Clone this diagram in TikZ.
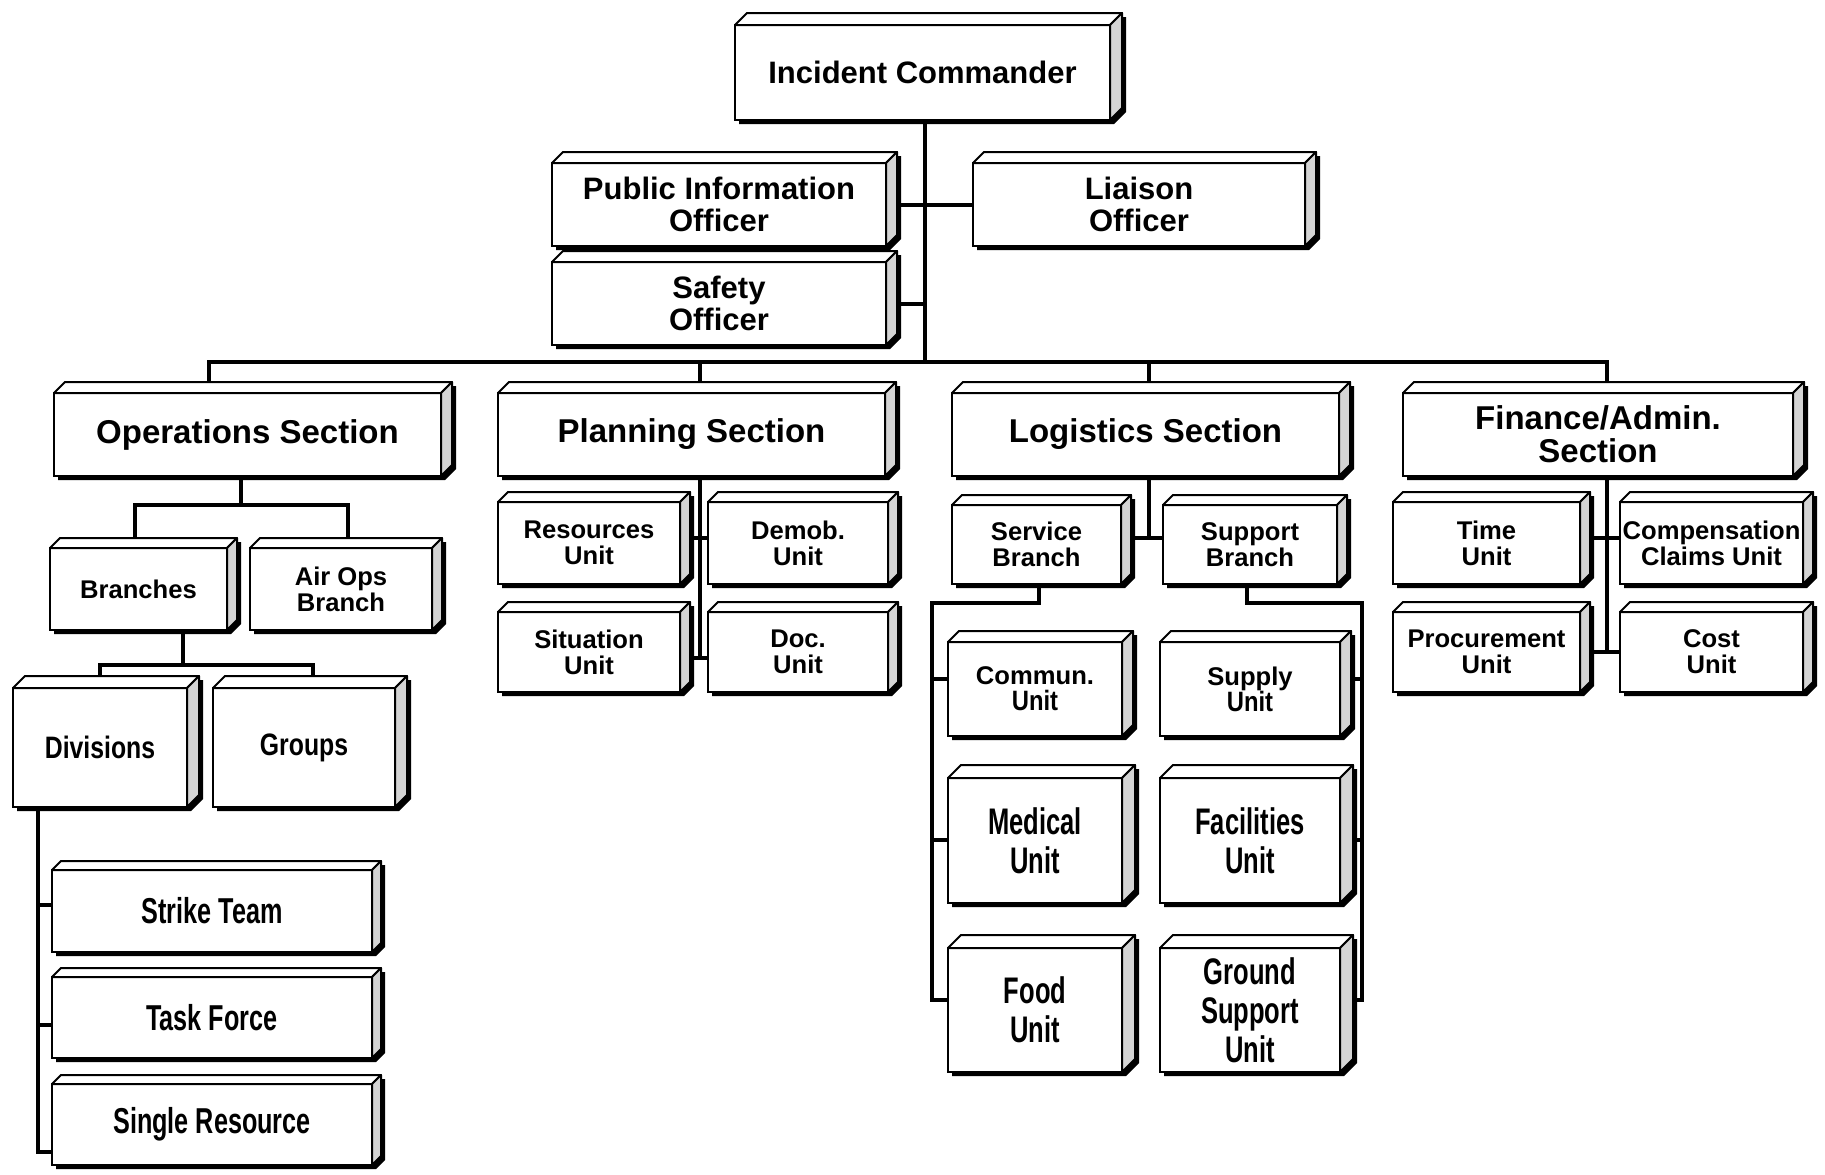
\documentclass[tikz,border=0pt]{standalone}
\usepackage{fontspec}
\setmainfont{Liberation Sans}
\usepackage{graphicx}
\usetikzlibrary{calc}
\pgfdeclarelayer{canvas}
\pgfdeclarelayer{background}
\pgfsetlayers{canvas,background,main}
\definecolor{sidegray}{HTML}{D4D4D4}
\newcommand\nar[2][0.7]{\scalebox{#1}[1]{#2}}
\tikzset{
  boxnode/.style={draw=black, line width=1pt, fill=white, inner sep=0pt, outer sep=0pt, align=center, text=black},
  faceline/.style={draw=black, line width=1pt, line join=round},
  conn/.style={draw=black, line width=2pt},
  ftop/.style={font=\fontsize{15.5}{16}\selectfont\bfseries},
  fsec/.style={font=\fontsize{16.5}{16.5}\selectfont\bfseries},
  fsub/.style={font=\fontsize{12.8}{13}\selectfont\bfseries},
  fdiv/.style={font=\fontsize{15.5}{16}\selectfont\bfseries},
  fres/.style={font=\fontsize{18}{19}\selectfont\bfseries},
  fbig/.style={font=\fontsize{18.5}{19.5}\selectfont\bfseries},
}
% #1 name, #2 x1, #3 y1, #4 x2, #5 y2, #6 depth, #7 font style, #8 text
\newcommand\mkbox[8]{%
  \fill[black] ({#2+4},{#5+4}) -- ({#4+4},{#5+4}) -- ({#4+#6+4},{#5-#6+4}) -- ({#4+#6+4},{#3-#6+4}) -- ({#2+#6+4},{#3-#6+4}) -- ({#2+4},{#3+4}) -- cycle;
  \node[boxnode, #7, minimum width={(#4-#2)*0.5pt}, minimum height={(#5-#3)*0.5pt}] (#1) at ({(#2+#4)/2},{(#3+#5)/2}) {#8};
  \draw[faceline, fill=white] (#1.north west) -- ++(#6,-#6) -- ([shift={(#6,-#6)}]#1.north east) -- (#1.north east) -- cycle;
  \draw[faceline, fill=sidegray] (#1.north east) -- ++(#6,-#6) -- ([shift={(#6,-#6)}]#1.south east) -- (#1.south east) -- cycle;
}
\begin{document}
\begin{tikzpicture}[x=0.5pt, y=-0.5pt]
\useasboundingbox (0,0) rectangle (1825,1174);
\begin{pgfonlayer}{canvas}
  \fill[white] (0,0) rectangle (1825,1174);
\end{pgfonlayer}

% top level
\mkbox{ic}{735}{25}{1110}{120}{12}{ftop}{Incident Commander}
\mkbox{pio}{552}{163}{886}{246}{11}{ftop}{Public Information\\Officer}
\mkbox{saf}{552}{262}{886}{345}{11}{ftop}{Safety\\Officer}
\mkbox{lia}{973}{163}{1305}{246}{11}{ftop}{Liaison\\Officer}

% sections
\mkbox{ops}{54}{393}{441}{476}{11}{fsec}{Operations Section}
\mkbox{pla}{498}{393}{885}{476}{11}{fsec}{Planning Section}
\mkbox{log}{952}{393}{1339}{476}{11}{fsec}{Logistics Section}
\mkbox{fin}{1403}{393}{1793}{476}{11}{fsec}{Finance/Admin.\\Section}

% operations
\mkbox{br}{50}{548}{227}{630}{10}{fsub}{Branches}
\mkbox{air}{250}{548}{432}{630}{10}{fsub}{Air Ops\\Branch}
\mkbox{div}{13}{688}{187}{807}{12}{fdiv}{\nar[0.8]{Divisions}}
\mkbox{grp}{213}{688}{395}{807}{12}{fdiv}{\nar[0.8]{Groups}}
\mkbox{strike}{52}{870}{372}{952}{9}{fres}{\nar{Strike Team}}
\mkbox{task}{52}{977}{372}{1058}{9}{fres}{\nar{Task Force}}
\mkbox{single}{52}{1084}{372}{1165}{9}{fres}{\nar{Single Resource}}

% planning
\mkbox{res}{498}{502}{680}{584}{10}{fsub}{Resources\\Unit}
\mkbox{dem}{708}{502}{888}{584}{10}{fsub}{Demob.\\Unit}
\mkbox{sit}{498}{612}{680}{692}{10}{fsub}{Situation\\Unit}
\mkbox{doc}{708}{612}{888}{692}{10}{fsub}{Doc.\\Unit}

% logistics
\mkbox{sb}{952}{505}{1121}{584}{10}{fsub}{Service\\Branch}
\mkbox{spb}{1163}{505}{1337}{584}{10}{fsub}{Support\\Branch}
\mkbox{comm}{948}{642}{1122}{736}{11}{fsub}{Commun.\\\nar[0.85]{\fontsize{14}{14}\selectfont Unit}}
\mkbox{sup}{1160}{642}{1340}{736}{11}{fsub}{Supply\\\nar[0.85]{\fontsize{14}{14}\selectfont Unit}}
\mkbox{med}{948}{778}{1122}{903}{13}{fbig}{\nar[0.69]{Medical}\\\nar[0.69]{Unit}}
\mkbox{fac}{1160}{778}{1340}{903}{13}{fbig}{\nar[0.69]{Facilities}\\\nar[0.69]{Unit}}
\mkbox{food}{948}{948}{1122}{1072}{13}{fbig}{\nar[0.69]{Food}\\\nar[0.69]{Unit}}
\mkbox{gsu}{1160}{948}{1340}{1072}{13}{fbig}{\nar[0.69]{Ground}\\\nar[0.69]{Support}\\\nar[0.69]{Unit}}

% finance
\mkbox{time}{1393}{502}{1580}{584}{10}{fsub}{Time\\Unit}
\mkbox{comp}{1620}{502}{1803}{584}{10}{fsub}{Compensation\\Claims Unit}
\mkbox{proc}{1393}{612}{1580}{692}{10}{fsub}{Procurement\\Unit}
\mkbox{cost}{1620}{612}{1803}{692}{10}{fsub}{Cost\\Unit}

% junction coordinates
\coordinate (tb) at (925,362);
\coordinate (b1) at (209,362);
\coordinate (bp) at (700,362);
\coordinate (bl) at (1149,362);
\coordinate (b4) at (1607,362);
\coordinate (o1) at (241,505);
\coordinate (o2) at (135,505);
\coordinate (o3) at (348,505);
\coordinate (o4) at (183,665);
\coordinate (o5) at (100,665);
\coordinate (o6) at (313,665);
\coordinate (o7) at (38,1152);
\coordinate (o8) at (38,905);
\coordinate (o9) at (38,1025);
\coordinate (p1) at (700,658);
\coordinate (p2) at (700,538);
\coordinate (f1) at (1607,652);
\coordinate (f2) at (1607,538);
\coordinate (l1) at (1149,538);
\coordinate (l2) at (1039,603);
\coordinate (l3) at (932,603);
\coordinate (l4) at (932,1000);
\coordinate (l5) at (932,679);
\coordinate (l6) at (932,840);
\coordinate (r1) at (1247,603);
\coordinate (r2) at (1362,603);
\coordinate (r3) at (1362,1000);
\coordinate (r4) at (1362,679);
\coordinate (r5) at (1362,840);

\begin{pgfonlayer}{background}
  % command staff
  \draw[conn] (ic.center -| tb) -- (tb);
  \draw[conn] (pio.center) -- (pio.center -| tb);
  \draw[conn] (lia.center) -- (lia.center -| tb);
  \draw[conn] (saf.center) -- (saf.center -| tb);
  % section bar
  \draw[conn] (b1 |- ops.center) -- (b1) -- (b4) -- (b4 |- fin.center);
  \draw[conn] (bp) -- (bp |- pla.center);
  \draw[conn] (bl) -- (bl |- log.center);
  % operations
  \draw[conn] (ops.center -| o1) -- (o1);
  \draw[conn] (o2 |- br.center) -- (o2) -- (o3) -- (o3 |- air.center);
  \draw[conn] (br.center -| o4) -- (o4);
  \draw[conn] (o5 |- div.center) -- (o5) -- (o6) -- (o6 |- grp.center);
  \draw[conn] (div.center -| o7) -- (o7) -- (o7 -| single.center);
  \draw[conn] (o8) -- (o8 -| strike.center);
  \draw[conn] (o9) -- (o9 -| task.center);
  % planning
  \draw[conn] (pla.center -| p1) -- (p1);
  \draw[conn] (res.center |- p2) -- (dem.center |- p2);
  \draw[conn] (sit.center |- p1) -- (doc.center |- p1);
  % logistics
  \draw[conn] (log.center -| l1) -- (l1);
  \draw[conn] (sb.center |- l1) -- (spb.center |- l1);
  \draw[conn] (sb.center -| l2) -- (l2) -- (l3) -- (l4) -- (l4 -| food.center);
  \draw[conn] (l5) -- (l5 -| comm.center);
  \draw[conn] (l6) -- (l6 -| med.center);
  \draw[conn] (spb.center -| r1) -- (r1) -- (r2) -- (r3) -- (r3 -| gsu.center);
  \draw[conn] (r4) -- (r4 -| sup.center);
  \draw[conn] (r5) -- (r5 -| fac.center);
  % finance
  \draw[conn] (fin.center -| f1) -- (f1);
  \draw[conn] (time.center |- f2) -- (comp.center |- f2);
  \draw[conn] (proc.center |- f1) -- (cost.center |- f1);
\end{pgfonlayer}
\end{tikzpicture}
\end{document}
